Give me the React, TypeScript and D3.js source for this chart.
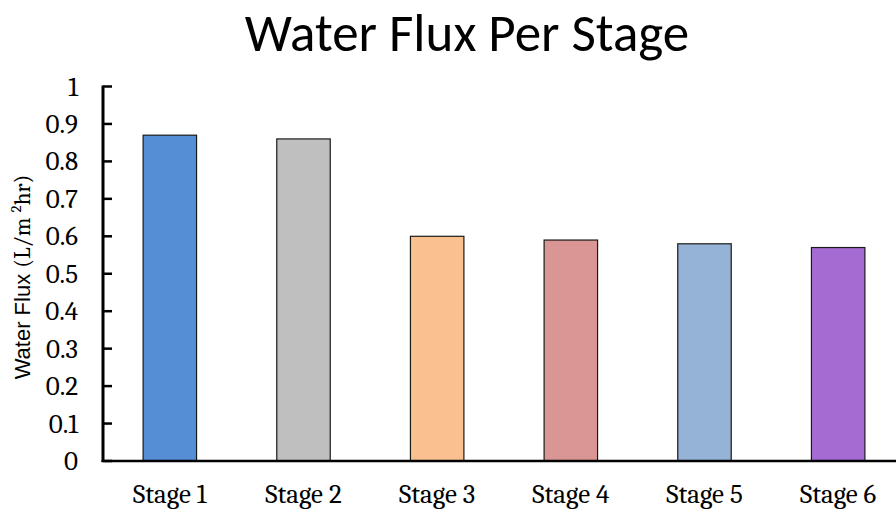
import React from "react";
import * as d3 from "d3";

const stages = ["Stage 1", "Stage 2", "Stage 3", "Stage 4", "Stage 5", "Stage 6"];
const flux = [0.87, 0.86, 0.6, 0.59, 0.58, 0.57];
const barColors = ["#558ed5", "#bfbfbf", "#fac090", "#d99694", "#95b3d7", "#a66bd3"];
const yTicks = [0, 0.1, 0.2, 0.3, 0.4, 0.5, 0.6, 0.7, 0.8, 0.9, 1];

const W = 896;
const H = 510;
const left = 103;
const right = 905;
const top = 86.5;
const bottom = 461;

export default function App() {
  const x = d3.scaleBand<string>().domain(stages).range([left, right]).paddingInner(0.6).paddingOuter(0.3);
  const y = d3.scaleLinear().domain([0, 1]).range([bottom, top]);
  const fmt = (v: number) => (v === 0 || v === 1 ? String(v) : d3.format(".1f")(v));
  const serif = "Cambria, 'DejaVu Serif', 'Liberation Serif', serif";

  return (
    <svg width={W} height={H} style={{ position: "absolute", left: 0, top: 0, background: "#fff" }}>
      <text x={467} y={51} textAnchor="middle" fontFamily="Calibri, Lato, 'Open Sans', sans-serif" fontSize={53} fill="#000">
        Water Flux Per Stage
      </text>

      {stages.map((s, i) => (
        <rect
          key={s}
          x={x(s)}
          y={y(flux[i])}
          width={x.bandwidth()}
          height={y(0) - y(flux[i])}
          fill={barColors[i]}
          stroke="#1a1a1a"
          strokeWidth={1.2}
        />
      ))}

      {/* y axis with inward ticks */}
      <line x1={left} x2={left} y1={top - 1} y2={bottom + 1} stroke="#000" strokeWidth={3} />
      {yTicks.map((t) => (
        <g key={t}>
          <line x1={left} x2={112} y1={y(t)} y2={y(t)} stroke="#000" strokeWidth={2.5} />
          <text x={78} y={y(t) + 9} textAnchor="end" fontFamily={serif} fontSize={27} fill="#000">
            {fmt(t)}
          </text>
        </g>
      ))}

      {/* x axis */}
      <line x1={left - 1.5} x2={W} y1={bottom} y2={bottom} stroke="#000" strokeWidth={2.5} />
      {stages.map((s) => (
        <text
          key={s}
          x={(x(s) as number) + x.bandwidth() / 2}
          y={503}
          textAnchor="middle"
          fontFamily={serif}
          fontSize={27}
          fill="#000"
        >
          {s}
        </text>
      ))}

      <text
        transform={`translate(30,${277}) rotate(-90)`}
        textAnchor="middle"
        fontSize={23}
        fill="#000"
      >
        <tspan fontFamily="Arial, 'Liberation Sans', sans-serif" fontSize={22}>Water Flux </tspan>
        <tspan fontFamily={serif}>(L/m </tspan>
        <tspan fontFamily={serif} fontSize={15} dy={-9}>2</tspan>
        <tspan fontFamily={serif} dy={9}>hr)</tspan>
      </text>
    </svg>
  );
}
